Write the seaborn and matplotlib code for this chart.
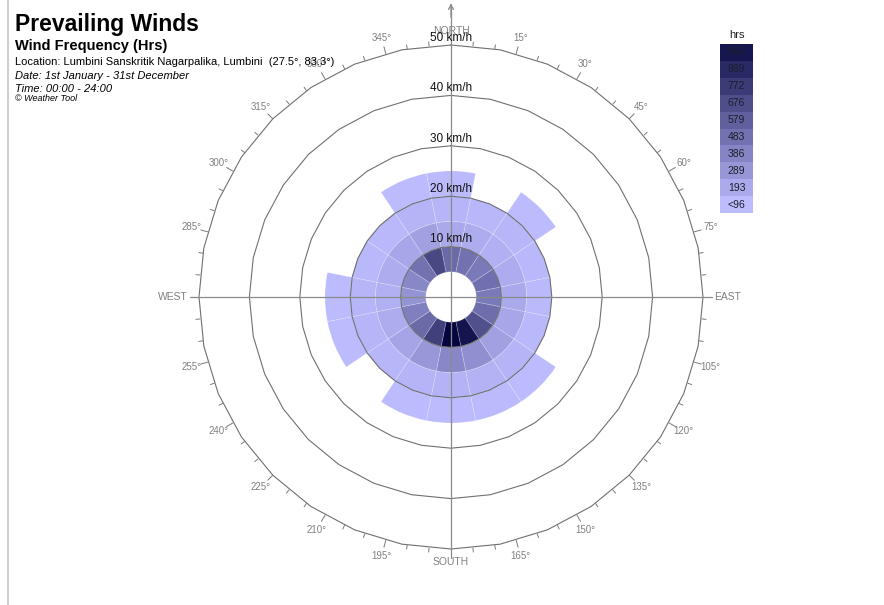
import numpy as np
import matplotlib
matplotlib.use("Agg")
import matplotlib.pyplot as plt
import seaborn as sns

# Compass sectors (22.5 deg each), clockwise from north
directions = ["N", "NNE", "NE", "ENE", "E", "ESE", "SE", "SSE",
              "S", "SSW", "SW", "WSW", "W", "WNW", "NW", "NNW"]
sector_angles = [0, 22.5, 45, 67.5, 90, 112.5, 135, 157.5,
                 180, 202.5, 225, 247.5, 270, 292.5, 315, 337.5]

# Wind speed bands (km/h) and hours spent in each sector/band
band_lower = [5, 10, 15, 20]
band_upper = [10, 15, 20, 25]
hours_5_10 = [431, 389, 347, 399, 347, 410, 567, 882, 961, 651, 431, 315, 210, 273, 389, 609]
hours_10_15 = [105, 84, 63, 84, 105, 115, 147, 231, 273, 189, 126, 84, 63, 84, 115, 147]
hours_15_20 = [40, 30, 35, 22, 18, 25, 45, 55, 50, 45, 35, 40, 38, 20, 25, 45]
hours_20_25 = [12, 0, 8, 0, 0, 0, 10, 12, 10, 9, 0, 10, 11, 0, 0, 10]
band_hours = [hours_5_10, hours_10_15, hours_15_20, hours_20_25]

ring_speeds = [10, 20, 30, 40, 50]
legend_levels = [0, 96, 193, 289, 386, 483, 579, 676, 772, 869]
legend_labels = ["<96", "193", "289", "386", "483", "579", "676", "772", "869", "966"]
hours_max = 966

sns.set_theme(style="white")
plt.rcParams["font.family"] = ["Liberation Sans", "DejaVu Sans"]

cmap = sns.blend_palette(["#bcbcff", "#04043e"], as_cmap=True)

W, H = 884, 605
fig = plt.figure(figsize=(W / 100, H / 100), dpi=100)
fig.patch.set_facecolor("white")

# Polar rose: centre and 50 km/h radius in pixels
cx, cy, R = 451, 297, 252
ax = fig.add_axes([(cx - R) / W, (H - cy - R) / H, 2 * R / W, 2 * R / H],
                  projection="polar")
ax.set_theta_zero_location("N")
ax.set_theta_direction(-1)
ax.set_ylim(0, 50)
ax.set_axis_off()

sector_width = np.deg2rad(22.5)
theta = np.deg2rad(sector_angles)
for lo, hi, hrs in zip(band_lower, band_upper, band_hours):
    hrs = np.asarray(hrs, dtype=float)
    keep = hrs > 0
    ax.bar(theta[keep], hi - lo, width=sector_width, bottom=lo,
           color=cmap(hrs[keep] / hours_max),
           edgecolor=(1, 1, 1, 0.22), linewidth=0.6, zorder=2)

# Speed rings drawn as 32-sided polygons
ring_t = np.linspace(0, 2 * np.pi, 33)
for s in ring_speeds:
    ax.plot(ring_t, np.full_like(ring_t, s), color="#707070", lw=0.8,
            zorder=3, clip_on=False)
    ax.text(0, s + 0.25, f"{s} km/h", ha="center", va="bottom",
            fontsize=8.5, color="#111111", zorder=6)

# Compass axis lines
axis_col = "#8a8a8a"
ax.plot([0, 0], [0, 57.6], color=axis_col, lw=0.9, zorder=4, clip_on=False)
for a in (np.pi / 2, np.pi, 3 * np.pi / 2):
    ax.plot([a, a], [0, 51.7], color=axis_col, lw=0.9, zorder=4, clip_on=False)
ax.annotate("", xy=(0, 58.3), xytext=(0, 55.5),
            arrowprops=dict(arrowstyle="->", color=axis_col, lw=0.9,
                            mutation_scale=9, shrinkA=0, shrinkB=0),
            annotation_clip=False, zorder=4)

# Degree ticks on the outer ring
tick_t, tick_r = [], []
for deg in range(5, 360, 5):
    if deg % 90 == 0:
        continue
    t = np.deg2rad(deg)
    length = 1.4 if deg % 15 == 0 else 0.8
    tick_t += [t, t, np.nan]
    tick_r += [50, 50 + length, np.nan]
ax.plot(tick_t, tick_r, color="#7a7a7a", lw=0.7, zorder=3, clip_on=False)

for deg in range(15, 360, 15):
    if deg % 90 == 0:
        continue
    ax.text(np.deg2rad(deg), 53.3, f"{deg}°", ha="center", va="center",
            fontsize=7, color="#808080")

card_col = "#808080"
ax.text(0, 52.8, "NORTH", ha="center", va="center", fontsize=7.5, color=card_col, zorder=1)
ax.text(np.pi, 52.6, "SOUTH", ha="center", va="center", fontsize=7.5, color=card_col)
ax.text(np.pi / 2, 52.2, "EAST", ha="left", va="center", fontsize=7.5, color=card_col)
ax.text(3 * np.pi / 2, 52.3, "WEST", ha="right", va="center", fontsize=7.5, color=card_col)

# Colour key
lax = fig.add_axes([720 / W, (H - 213) / H, 33 / W, 169 / H])
key_vals = np.array(legend_levels[::-1], dtype=float).reshape(-1, 1)
key_text = np.array(legend_labels[::-1]).reshape(-1, 1)
sns.heatmap(key_vals, ax=lax, cmap=cmap, vmin=0, vmax=hours_max, cbar=False,
            annot=key_text, fmt="", annot_kws=dict(fontsize=7.5, color="#1e1e2a"),
            xticklabels=False, yticklabels=False, linewidths=0)
fig.text(737 / W, 1 - 35 / H, "hrs", ha="center", va="center", fontsize=8, color="#222222")

# Header text
fig.text(15 / W, 1 - 31 / H, "Prevailing Winds", fontsize=16.5, fontweight="bold",
         va="baseline", color="#000000")
fig.text(15 / W, 1 - 50 / H, "Wind Frequency (Hrs)", fontsize=10.5, fontweight="bold",
         va="baseline", color="#000000")
fig.text(15 / W, 1 - 65 / H,
         "Location: Lumbini Sanskritik Nagarpalika, Lumbini  (27.5°, 83.3°)",
         fontsize=8, va="baseline", color="#000000")
fig.text(15 / W, 1 - 79 / H, "Date: 1st January - 31st December", fontsize=8,
         style="italic", va="baseline", color="#000000")
fig.text(15 / W, 1 - 92 / H, "Time: 00:00 - 24:00", fontsize=8, style="italic",
         va="baseline", color="#000000")
fig.text(15 / W, 1 - 101 / H, "© Weather Tool", fontsize=6.5, style="italic",
         va="baseline", color="#000000")

# Page border on the left
fig.add_artist(plt.Line2D([8 / W, 8 / W], [0, 1], color="#d0d0d0", lw=1.5))

fig.savefig("out.png", dpi=100)
